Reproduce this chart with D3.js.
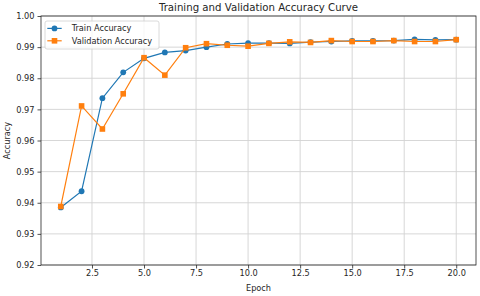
<!DOCTYPE html>
<html>
<head>
<meta charset="utf-8">
<script src="https://cdn.jsdelivr.net/npm/d3@7"></script>
<style>
  body { margin: 0; background: #fff; }
  text { font-family: "DejaVu Sans", sans-serif; fill: #262626; }
</style>
</head>
<body>
<div id="chart"></div>
<script>
// data
const epochs = d3.range(1, 21);
const trainAcc = [0.9385, 0.9437, 0.9736, 0.9819, 0.9864, 0.9883, 0.9889, 0.9900, 0.9910, 0.9913,
                  0.9913, 0.9912, 0.9916, 0.9918, 0.9920, 0.9920, 0.9921, 0.9925, 0.9923, 0.9924];
const valAcc = [0.9388, 0.9711, 0.9637, 0.9750, 0.9866, 0.9810, 0.9898, 0.9911, 0.9906, 0.9903,
                0.9912, 0.9917, 0.9915, 0.9921, 0.9918, 0.9918, 0.9921, 0.9918, 0.9918, 0.9924];
const xTicks = [2.5, 5.0, 7.5, 10.0, 12.5, 15.0, 17.5, 20.0];
const yTicks = [0.92, 0.93, 0.94, 0.95, 0.96, 0.97, 0.98, 0.99, 1.00];

let margin = {top: 16, right: 4, bottom: 31, left: 41};
let width = 480 - margin.left - margin.right;
let height = 296 - margin.top - margin.bottom;
const fs = "8.2px";

const svg = d3.select("#chart").append("svg")
    .attr("width", 480)
    .attr("height", 296);

const g = svg.append("g")
    .attr("transform", `translate(${margin.left},${margin.top})`);

const x = d3.scaleLinear().domain([0.05, 20.95]).range([0, width]);
const y = d3.scaleLinear().domain([0.92, 1.00]).range([height, 0]);

// grid
g.append("g").selectAll("line.vg")
    .data(xTicks).enter().append("line")
    .attr("x1", d => x(d)).attr("x2", d => x(d))
    .attr("y1", 0).attr("y2", height)
    .style("stroke", "#d3d3d3").style("stroke-width", 0.9);

g.append("g").selectAll("line.hg")
    .data(yTicks).enter().append("line")
    .attr("y1", d => y(d)).attr("y2", d => y(d))
    .attr("x1", 0).attr("x2", width)
    .style("stroke", "#d3d3d3").style("stroke-width", 0.9);

// axes
const xAxis = g.append("g")
    .attr("transform", `translate(0,${height})`)
    .call(d3.axisBottom(x).tickValues(xTicks).tickFormat(d3.format(".1f")).tickSize(3.5).tickPadding(2));
const yAxis = g.append("g")
    .call(d3.axisLeft(y).tickValues(yTicks).tickFormat(d3.format(".2f")).tickSize(3.5).tickPadding(3));

[xAxis, yAxis].forEach(a => {
    a.select(".domain").remove();
    a.selectAll("line").style("stroke", "#262626").style("stroke-width", 0.8);
    a.selectAll("text").style("font-size", fs).style("font-family", "DejaVu Sans").attr("fill", "#262626");
});

// frame
g.append("rect")
    .attr("width", width).attr("height", height)
    .style("fill", "none").style("stroke", "#262626").style("stroke-width", 0.8);

const blue = "#1f77b4", orange = "#ff7f0e";

const line = d3.line()
    .x((d, i) => x(epochs[i]))
    .y(d => y(d));

// train
g.append("path").datum(trainAcc)
    .attr("d", line)
    .style("fill", "none").style("stroke", blue).style("stroke-width", 1.2);
g.selectAll("circle.tr")
    .data(trainAcc).enter().append("circle")
    .attr("cx", (d, i) => x(epochs[i]))
    .attr("cy", d => y(d))
    .attr("r", 2.9)
    .style("fill", blue);

// validation
g.append("path").datum(valAcc)
    .attr("d", line)
    .style("fill", "none").style("stroke", orange).style("stroke-width", 1.2);
const sq = 5.6;
g.selectAll("rect.va")
    .data(valAcc).enter().append("rect")
    .attr("x", (d, i) => x(epochs[i]) - sq / 2)
    .attr("y", d => y(d) - sq / 2)
    .attr("width", sq).attr("height", sq)
    .style("fill", orange);

// legend
const leg = g.append("g").attr("transform", "translate(4,5)");
leg.append("rect")
    .attr("width", 114).attr("height", 28).attr("rx", 2)
    .style("fill", "#fff").style("fill-opacity", 0.8)
    .style("stroke", "#d0d0d0").style("stroke-width", 0.8);

const legendItems = [
    {label: "Train Accuracy", color: blue, shape: "circle"},
    {label: "Validation Accuracy", color: orange, shape: "square"}
];
legendItems.forEach((it, i) => {
    const ly = 7.4 + i * 12.4;
    leg.append("line")
        .attr("x1", 2.3).attr("x2", 16.7)
        .attr("y1", ly).attr("y2", ly)
        .style("stroke", it.color).style("stroke-width", 1.2);
    if (it.shape === "circle") {
        leg.append("circle").attr("cx", 9.5).attr("cy", ly).attr("r", 2.9).style("fill", it.color);
    } else {
        leg.append("rect").attr("x", 9.5 - sq / 2).attr("y", ly - sq / 2)
            .attr("width", sq).attr("height", sq).style("fill", it.color);
    }
    leg.append("text")
        .attr("x", 26.7).attr("y", ly)
        .attr("dy", "0.35em")
        .style("font-size", fs)
        .text(it.label);
});

// labels
svg.append("text")
    .attr("x", margin.left + width / 2).attr("y", 11)
    .attr("text-anchor", "middle")
    .style("font-size", "10.2px")
    .text("Training and Validation Accuracy Curve");

svg.append("text")
    .attr("x", margin.left + width / 2).attr("y", 290.5)
    .attr("text-anchor", "middle")
    .style("font-size", fs)
    .text("Epoch");

svg.append("text")
    .attr("transform", `translate(10,${margin.top + height / 2}) rotate(-90)`)
    .attr("text-anchor", "middle")
    .style("font-size", fs)
    .text("Accuracy");
</script>
</body>
</html>
